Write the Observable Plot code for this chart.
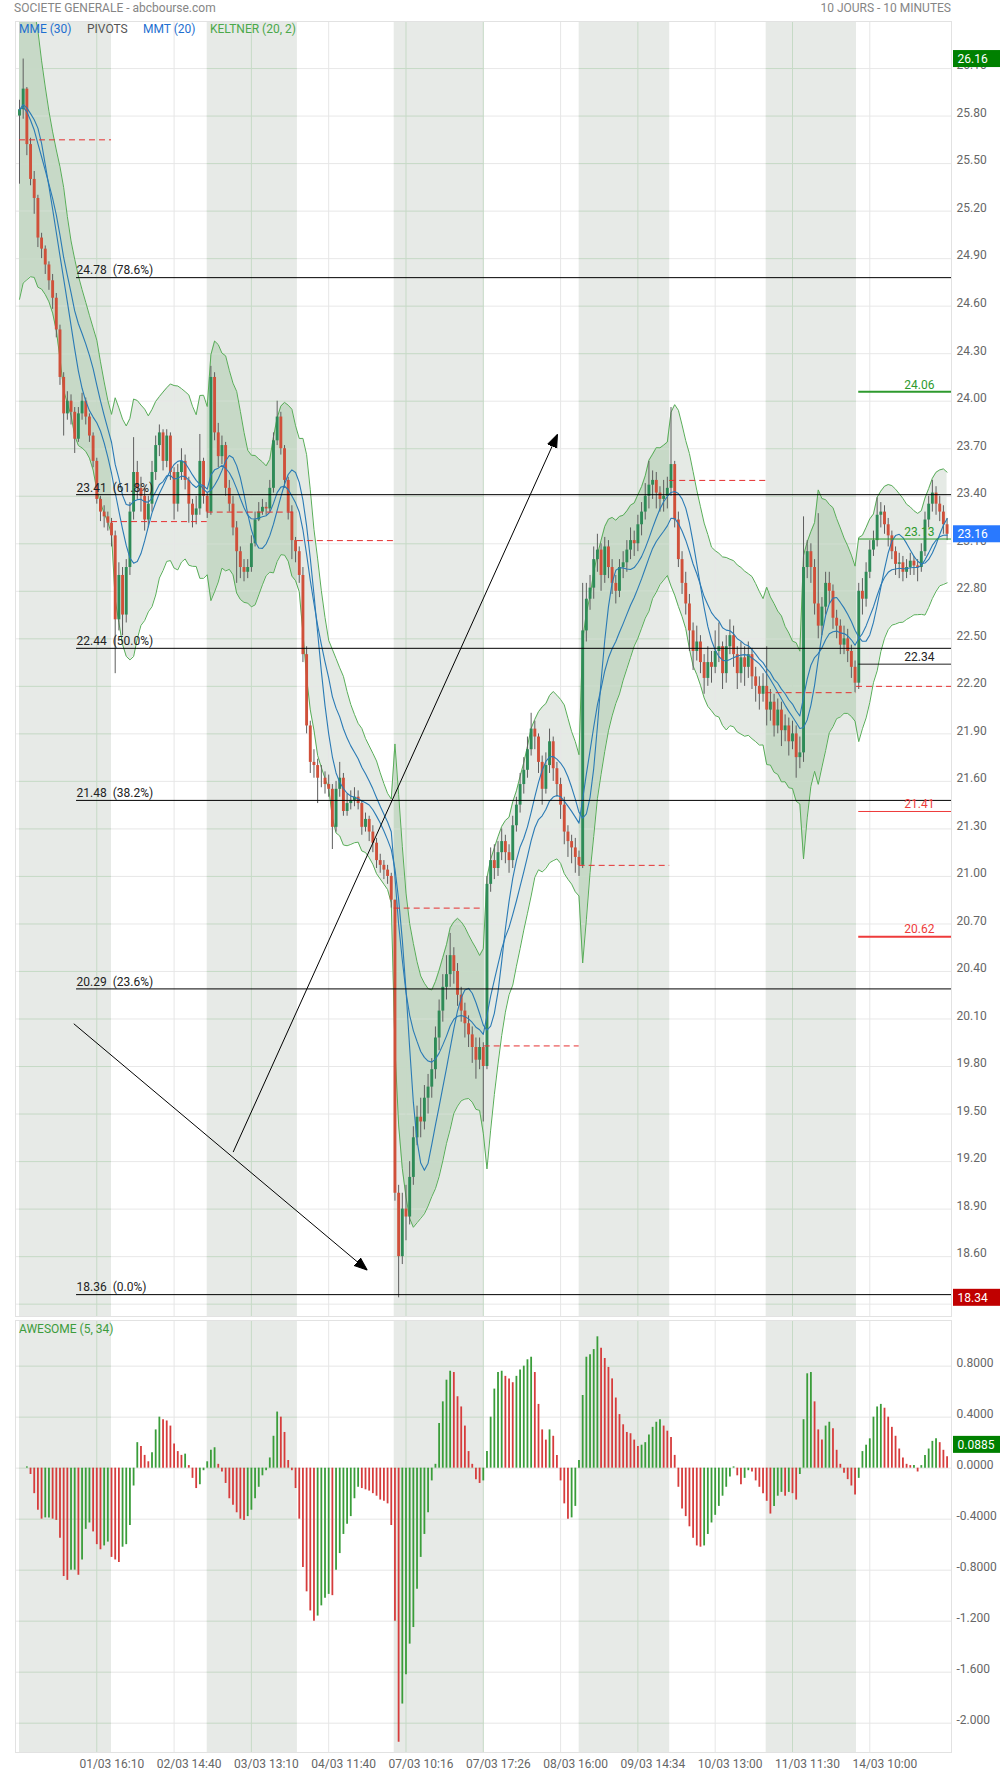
<!DOCTYPE html>
<html>
<head>
<meta charset="utf-8">
<script src="https://cdn.jsdelivr.net/npm/d3@7"></script>
<script src="https://cdn.jsdelivr.net/npm/@observablehq/plot@0.6"></script>
<style>
  html, body { margin: 0; padding: 0; background: #fff; }
  body { font-family: Roboto, "Noto Sans", sans-serif; }
  #wrap { position: relative; width: 1000px; height: 1774px; overflow: hidden; }
  #main { position: absolute; left: 0; top: 0; }
  #osc { position: absolute; left: 0; top: 1318px; }
  .lbl { position: absolute; white-space: nowrap; font-size: 12px; line-height: 14px; }
</style>
</head>
<body>
<div id="wrap">
  <div id="main"></div>
  <div id="osc"></div>
  <div class="lbl" style="left:14px;top:1px;color:#858585;">SOCIETE GENERALE - abcbourse.com</div>
  <div class="lbl" style="right:49px;top:1px;color:#858585;">10 JOURS - 10 MINUTES</div>
  <div class="lbl" style="left:19px;top:22px;color:#1e6fd0;">MME (30)</div>
  <div class="lbl" style="left:87px;top:22px;color:#555;">PIVOTS</div>
  <div class="lbl" style="left:143px;top:22px;color:#1e6fd0;">MMT (20)</div>
  <div class="lbl" style="left:210px;top:22px;color:#4aa84a;">KELTNER (20, 2)</div>
  <div class="lbl" style="left:19px;top:1322px;color:#3c9c3c;">AWESOME (5, 34)</div>
</div>
<script>
// ---------------- DATA ----------------
const firstOpen = 25.80;
const closes = [
  25.84,25.97,25.62,25.40,25.28,25.03,24.96,24.86,24.76,24.65,24.45,24.15,23.92,24.00,23.93,23.76,23.92,24.00,23.90,23.78,23.62,23.38,23.30,23.27,23.23,
  23.15,22.62,22.90,22.65,22.95,23.30,23.55,23.45,23.40,23.25,23.35,23.55,23.72,23.80,23.62,23.78,23.55,23.35,23.55,23.62,23.50,23.35,23.28,23.32,23.62,23.40,
  23.30,24.15,23.80,23.65,23.72,23.45,23.35,23.20,23.05,22.95,22.92,22.95,23.10,23.25,23.30,23.33,23.32,23.45,23.75,23.90,23.70,23.50,23.30,23.12,23.05,
  22.90,22.40,21.95,21.72,21.70,21.62,21.62,21.58,21.55,21.31,21.55,21.62,21.41,21.46,21.48,21.50,21.46,21.31,21.36,21.28,21.21,21.10,21.07,21.04,21.00,20.85,
  19.00,18.60,18.90,18.85,19.10,19.35,19.48,19.45,19.60,19.67,19.78,19.98,20.15,20.30,20.38,20.50,20.40,20.25,20.15,20.07,20.00,19.92,19.84,19.92,19.80,
  20.95,21.10,21.05,21.15,21.22,21.15,21.10,21.32,21.45,21.58,21.67,21.80,21.93,21.88,21.72,21.55,21.70,21.85,21.68,21.58,21.45,21.28,21.22,21.18,21.12,21.07,
  22.55,22.75,22.82,23.00,23.06,22.90,23.08,22.95,22.85,22.80,22.95,22.98,23.06,23.12,23.10,23.22,23.30,23.40,23.47,23.50,23.42,23.38,23.40,23.45,23.60,
  23.25,23.00,22.85,22.72,22.55,22.42,22.48,22.35,22.25,22.35,22.32,22.42,22.45,22.28,22.45,22.52,22.40,22.28,22.38,22.32,22.40,22.26,22.20,22.15,22.20,
  22.05,22.10,21.95,22.05,21.92,21.95,21.85,21.90,21.75,21.78,22.95,23.05,22.95,22.72,22.58,22.70,22.85,22.80,22.63,22.58,22.46,22.50,22.42,22.32,22.22,
  22.80,22.75,22.92,23.06,23.12,23.28,23.30,23.22,23.15,23.05,22.97,22.98,22.92,22.95,22.99,22.96,22.95,23.05,23.25,23.35,23.42,23.35,23.30,23.22,23.16
];
const highs = [
  25.90,26.16,25.98,25.66,25.45,25.30,25.06,24.98,24.88,24.80,24.68,24.48,24.18,24.06,24.04,23.96,23.96,24.05,24.02,23.92,23.80,23.64,23.40,23.34,23.30,
  23.26,23.18,22.98,22.95,23.00,23.36,23.77,23.62,23.52,23.45,23.40,23.62,23.78,23.85,23.82,23.82,23.80,23.58,23.60,23.70,23.66,23.52,23.38,23.40,23.79,23.64,
  23.42,24.22,24.18,23.86,23.78,23.74,23.50,23.40,23.24,23.08,23.00,23.00,23.15,23.30,23.36,23.38,23.36,23.50,23.80,24.00,23.93,23.72,23.52,23.34,23.14,
  23.08,22.95,22.45,21.98,21.80,21.74,21.70,21.66,21.64,21.58,21.60,21.72,21.65,21.52,21.54,21.56,21.54,21.48,21.40,21.38,21.32,21.24,21.14,21.10,21.07,21.02,
  20.85,19.05,19.00,19.05,19.20,19.42,19.55,19.60,19.68,19.75,19.85,20.05,20.22,20.38,20.50,20.64,20.55,20.45,20.30,20.20,20.12,20.05,19.98,19.98,19.95,
  21.00,21.18,21.20,21.22,21.30,21.26,21.20,21.38,21.50,21.65,21.75,21.88,22.03,21.98,21.90,21.76,21.78,21.93,21.88,21.72,21.62,21.50,21.32,21.26,21.24,21.16,
  22.85,22.85,22.90,23.08,23.16,23.10,23.14,23.12,23.00,22.90,23.00,23.05,23.12,23.20,23.18,23.28,23.36,23.48,23.62,23.56,23.55,23.46,23.50,23.52,23.96,
  23.62,23.30,23.05,22.92,22.78,22.60,22.58,22.52,22.40,22.45,22.42,22.55,22.60,22.48,22.52,22.62,22.58,22.45,22.48,22.45,22.48,22.44,22.32,22.26,22.28,
  22.45,22.18,22.15,22.12,22.10,22.02,22.00,21.98,21.95,21.88,23.27,23.12,23.10,23.00,23.29,22.76,22.92,22.92,22.84,22.68,22.62,22.58,22.56,22.46,22.36,
  22.85,22.88,22.98,23.12,23.18,23.39,23.36,23.34,23.26,23.18,23.08,23.04,23.02,23.00,23.04,23.02,23.00,23.10,23.30,23.40,23.50,23.46,23.40,23.34,23.26
];
const lows = [
  25.37,25.78,25.55,25.36,25.18,24.97,24.90,24.80,24.70,24.58,24.40,24.10,23.78,23.88,23.85,23.67,23.74,23.88,23.85,23.74,23.58,23.35,23.24,23.20,23.18,
  23.08,22.28,22.55,22.52,22.60,22.90,23.25,23.38,23.30,23.18,23.20,23.30,23.50,23.65,23.56,23.58,23.50,23.25,23.30,23.50,23.44,23.23,23.20,23.22,23.28,23.35,
  23.26,23.28,23.75,23.58,23.60,23.40,23.30,23.15,22.85,22.88,22.86,22.88,22.92,23.08,23.24,23.28,23.28,23.30,23.42,23.72,23.66,23.45,23.25,23.00,22.98,
  22.85,22.35,21.90,21.65,21.62,21.46,21.56,21.52,21.50,21.17,21.28,21.50,21.38,21.38,21.42,21.44,21.42,21.26,21.28,21.22,21.15,21.05,21.02,20.98,20.95,20.80,
  18.95,18.34,18.55,18.70,18.80,19.05,19.30,19.35,19.40,19.50,19.60,19.72,19.90,20.08,20.22,20.30,20.32,20.18,20.08,19.98,19.92,19.82,19.72,19.78,19.45,
  19.78,20.90,20.98,21.00,21.10,21.08,21.02,21.05,21.28,21.40,21.52,21.62,21.76,21.80,21.65,21.45,21.52,21.65,21.60,21.50,21.36,21.20,21.12,21.08,21.02,21.00,
  21.05,22.48,22.68,22.75,22.92,22.80,22.85,22.88,22.78,22.72,22.76,22.88,22.92,23.00,23.02,23.05,23.15,23.25,23.32,23.38,23.32,23.30,23.30,23.32,23.40,
  23.20,22.95,22.78,22.65,22.42,22.30,22.36,22.28,22.15,22.20,22.22,22.28,22.35,22.18,22.22,22.40,22.32,22.18,22.22,22.20,22.25,22.18,22.10,22.05,22.10,
  21.95,21.98,21.88,21.90,21.82,21.85,21.76,21.80,21.62,21.68,21.72,22.88,22.85,22.65,22.50,22.52,22.65,22.72,22.56,22.50,22.40,22.40,22.35,22.25,22.16,
  22.18,22.65,22.70,22.88,23.02,23.08,23.20,23.16,23.08,23.00,22.90,22.88,22.86,22.88,22.90,22.90,22.86,22.92,23.02,23.20,23.30,23.28,23.24,23.16,23.12
];
const awesome = [
  0,0,0.01,-0.05,-0.20,-0.33,-0.40,-0.39,-0.39,-0.40,-0.41,-0.55,-0.85,-0.88,-0.80,-0.80,-0.84,-0.72,-0.48,-0.43,-0.50,-0.60,-0.64,-0.61,-0.58,
  -0.70,-0.72,-0.74,-0.62,-0.60,-0.45,-0.14,0.20,0.17,0.10,0.05,0.12,0.30,0.40,0.38,0.37,0.33,0.19,0.13,0.10,0.11,0.02,-0.08,-0.16,-0.13,-0.02,
  0.05,0.14,0.16,0.03,-0.03,-0.12,-0.24,-0.29,-0.35,-0.40,-0.41,-0.38,-0.33,-0.24,-0.15,-0.06,-0.02,0.08,0.25,0.44,0.40,0.28,0.06,-0.02,-0.16,
  -0.40,-0.78,-0.97,-1.12,-1.20,-1.16,-1.08,-1.02,-0.99,-1.00,-0.80,-0.67,-0.52,-0.44,-0.38,-0.24,-0.15,-0.16,-0.17,-0.18,-0.20,-0.22,-0.25,-0.26,-0.28,-0.45,
  -1.20,-2.15,-1.85,-1.62,-1.38,-1.25,-0.95,-0.70,-0.52,-0.35,-0.10,0.03,0.35,0.52,0.69,0.76,0.75,0.56,0.48,0.33,0.13,0.03,-0.09,-0.12,-0.10,
  0.13,0.40,0.62,0.75,0.76,0.72,0.70,0.67,0.72,0.77,0.80,0.85,0.87,0.75,0.50,0.30,0.22,0.30,0.25,0.10,-0.10,-0.28,-0.40,-0.39,-0.30,0.06,
  0.57,0.87,0.89,0.93,1.03,0.94,0.86,0.79,0.70,0.55,0.42,0.34,0.28,0.27,0.22,0.17,0.18,0.20,0.26,0.32,0.36,0.38,0.33,0.29,0.24,
  0.10,-0.15,-0.32,-0.38,-0.46,-0.55,-0.61,-0.62,-0.61,-0.52,-0.43,-0.37,-0.30,-0.22,-0.15,-0.07,0.01,-0.06,-0.13,-0.08,-0.02,-0.03,-0.10,-0.15,-0.20,
  -0.26,-0.36,-0.30,-0.22,-0.19,-0.22,-0.19,-0.20,-0.25,-0.05,0.38,0.74,0.75,0.52,0.30,0.22,0.33,0.36,0.31,0.14,0.03,-0.04,-0.09,-0.14,-0.21,
  -0.08,0.13,0.18,0.23,0.40,0.48,0.50,0.47,0.40,0.32,0.25,0.15,0.08,0.03,0.02,0.02,-0.03,0.02,0.10,0.15,0.21,0.23,0.20,0.14,0.0885
];
// day boundaries in 10-minute bar units (candles here are 20-minute steps: t = 2*j)
const dayBounds = [0, 50, 102, 151, 203.6, 252.5, 304.1, 353.3, 405.7, 454.8];
const shadedDays = [0, 2, 4, 6, 8];
const pivots = [25.65, 23.24, 23.30, 23.12, 20.80, 19.93, 21.07, 23.50, 22.16, 22.20];
const fibLevels = [24.78, 23.41, 22.44, 21.48, 20.29, 18.36];
const fibPct = ["78.6%", "61.8%", "50.0%", "38.2%", "23.6%", "0.0%"];
const fibStartBar = 31;
const todayLevels = [24.06, 23.13, 22.34, 21.41, 20.62];
const todayKinds = ["R2", "R1", "P", "S1", "S2"];
const xTickBars = [42, 84, 126, 168, 210, 252, 294, 336, 378, 420, 462];
const xTickLabels = ["01/03 16:10","02/03 14:40","03/03 13:10","04/03 11:40","07/03 10:16","07/03 17:26","08/03 16:00","09/03 14:34","10/03 13:00","11/03 11:30","14/03 10:00"];
const aoTicks = [0.8, 0.4, 0, -0.4, -0.8, -1.2, -1.6, -2.0];
const aoTickLabels = ["0.8000","0.4000","0.0000","-0.4000","-0.8000","-1.200","-1.600","-2.000"];
const arrowsData = [
  {t1: 29.5, p1: 20.07, t2: 188.9, p2: 18.515},
  {t1: 116.1, p1: 19.26, t2: 292.3, p2: 23.79}
];
const periodHigh = 26.16, periodLow = 18.34, lastPrice = 23.16, lastAO = 0.0885;

// ---------------- SCALES / DERIVED ----------------
const xDomain = [-2.17, 506.4];
const priceDomain = [18.222, 26.397];
const aoDomain = [-2.23, 1.158];
const priceTicks = d3.range(61, 88).map(i => Math.round(i * 30) / 100);

const candles = closes.map((c, j) => ({
  t: 2 * j, o: j ? closes[j - 1] : firstOpen, h: highs[j], l: lows[j], c
}));
function ema(a, n) { const k = 2 / (n + 1); let e = a[0]; return a.map((v, i) => i === 0 ? e : (e = e + k * (v - e))); }
function sma(a, n) { return a.map((v, i) => { const s = Math.max(0, i - n + 1); let sum = 0; for (let q = s; q <= i; q++) sum += a[q]; return sum / (i - s + 1); }); }
const mme = ema(closes, 15);
const mmt = sma(sma(closes, 5), 6);
const typical = candles.map(d => (d.h + d.l + d.c) / 3);
const tr = candles.map((d, i) => i === 0 ? d.h - d.l : Math.max(d.h - d.l, Math.abs(d.h - candles[i - 1].c), Math.abs(d.l - candles[i - 1].c)));
const kCenter = ema(typical, 10);
const atr = ema(tr, 10);
candles.forEach((d, i) => {
  d.mme = mme[i]; d.mmt = mmt[i];
  d.upper = kCenter[i] + 2 * atr[i]; d.lower = kCenter[i] - 2 * atr[i];
});
const aoData = awesome.map((v, j) => ({t: 2 * j, v, up: j === 0 ? true : v >= awesome[j - 1]}));

const shade = shadedDays.map(d => ({x1: dayBounds[d], x2: dayBounds[d + 1]}));
const isShaded = t => shade.some(s => t >= s.x1 && t <= s.x2);

// band geometry cut at the shaded-day edges (so the darker tint stops exactly at the day edges)
function bandAt(t) {
  const i = Math.min(candles.length - 2, Math.max(0, Math.floor(t / 2)));
  const a = candles[i], b = candles[i + 1], f = (t - a.t) / (b.t - a.t);
  return {t, upper: a.upper + f * (b.upper - a.upper), lower: a.lower + f * (b.lower - a.lower)};
}
const darkBand = shade.flatMap((s, k) =>
  [bandAt(s.x1), ...candles.filter(d => d.t > s.x1 && d.t < s.x2), bandAt(s.x2)].map(p => ({t: p.t, upper: p.upper, lower: p.lower, seg: k}))
);

const pivotData = pivots.map((v, d) => ({v, x1: dayBounds[d], x2: d < dayBounds.length - 1 ? dayBounds[d + 1] : xDomain[1]}));
const fibData = fibLevels.map((v, i) => ({v, label: v.toFixed(2) + "\u00a0\u00a0(" + fibPct[i] + ")"}));
const levelStyle = {
  R2: {color: "#2e9a2e", w: 2}, R1: {color: "#2e9a2e", w: 1}, P: {color: "#222", w: 1},
  S1: {color: "#ee3b3b", w: 1}, S2: {color: "#ee3b3b", w: 2}
};
const levelData = todayLevels.map((v, i) => ({v, kind: todayKinds[i], label: v.toFixed(2)}));
const todayStart = dayBounds[9] + 1.2;

const pxPerBar = 936 / (xDomain[1] - xDomain[0]);
const pxPerPrice = 1295 / (priceDomain[1] - priceDomain[0]);
const pxPerAO = 432 / (aoDomain[1] - aoDomain[0]);
const badgeX1 = xDomain[1] + 2 / pxPerBar, badgeX2 = xDomain[1] + 49 / pxPerBar, badgeTX = xDomain[1] + 6 / pxPerBar;
const levelTextX = xDomain[1] - 17 / pxPerBar;
const priceBadges = [
  {v: periodHigh, color: "#008000"}, {v: lastPrice, color: "#2979ff"}, {v: periodLow, color: "#c00000"}
];
const labelMap = new Map(xTickBars.map((b, i) => [b, xTickLabels[i]]));
const aoLabelMap = new Map(aoTicks.map((b, i) => [b, aoTickLabels[i]]));

const GRID = "#e6e6e6", GRID_G = "#c6dac6", SHADE = "#e7eae7";
const UP = "#2e8b57", DOWN = "#d0503a";

function filledHead(color, context) {
  const ns = "http://www.w3.org/2000/svg";
  const doc = (context && context.document) || document;
  const m = doc.createElementNS(ns, "marker");
  m.setAttribute("viewBox", "-13 -6 13 12");
  m.setAttribute("markerWidth", "13");
  m.setAttribute("markerHeight", "12");
  m.setAttribute("markerUnits", "userSpaceOnUse");
  m.setAttribute("orient", "auto");
  m.setAttribute("refX", "0");
  m.setAttribute("refY", "0");
  const p = doc.createElementNS(ns, "path");
  p.setAttribute("d", "M-13,-5L0,0L-13,5Z");
  p.setAttribute("fill", color === "currentColor" ? "#000" : color);
  m.appendChild(p);
  return m;
}

function mainMarks(arrowMark) {
  return [
    Plot.rect(shade, {x1: "x1", x2: "x2", fill: SHADE}),
    Plot.areaY(candles, {x: "t", y1: "lower", y2: "upper", fill: "#e5eae5", clip: true}),
    Plot.areaY(darkBand, {x: "t", y1: "lower", y2: "upper", z: "seg", fill: "#c7d9c7", clip: true}),
    Plot.ruleY(priceTicks, {stroke: GRID, strokeOpacity: 0.9}),
    Plot.ruleY(d3.cross(priceTicks, shade), {y: d => d[0], x1: d => d[1].x1, x2: d => d[1].x2, stroke: GRID_G}),
    Plot.ruleX(xTickBars, {stroke: d => isShaded(d) ? GRID_G : GRID}),
    Plot.line(candles, {x: "t", y: "upper", stroke: "#58ad58", strokeWidth: 1, clip: true}),
    Plot.line(candles, {x: "t", y: "lower", stroke: "#58ad58", strokeWidth: 1, clip: true}),
    Plot.ruleX(candles, {x: "t", y1: "l", y2: "h", stroke: "#5e5e5e", strokeWidth: 1, clip: true}),
    Plot.ruleX(candles, {x: "t", y1: "o", y2: "c", stroke: d => d.c >= d.o ? UP : DOWN, strokeWidth: 2.9, clip: true}),
    Plot.line(candles, {x: "t", y: "mmt", stroke: "#2a7ab5", strokeWidth: 1.1, clip: true}),
    Plot.line(candles, {x: "t", y: "mme", stroke: "#2a7ab5", strokeWidth: 1.1, clip: true}),
    Plot.ruleY(pivotData, {y: "v", x1: "x1", x2: "x2", stroke: "#e53030", strokeWidth: 1, strokeDasharray: "6,4"}),
    Plot.ruleY(fibData, {y: "v", x1: fibStartBar, x2: xDomain[1], stroke: "#000", strokeWidth: 1}),
    Plot.text(fibData, {x: fibStartBar, y: "v", text: "label", dy: -7, textAnchor: "start", fill: "#222", fontSize: 12}),
    arrowMark,
    Plot.ruleY(levelData, {y: "v", x1: todayStart, x2: xDomain[1], stroke: d => levelStyle[d.kind].color, strokeWidth: d => levelStyle[d.kind].w}),
    Plot.text(levelData, {x: levelTextX, y: "v", text: "label", dy: -7, textAnchor: "end", fill: d => levelStyle[d.kind].color, fontSize: 12}),
    Plot.axisY({ticks: priceTicks, anchor: "right", label: null, tickSize: 0, tickPadding: 5, dy: -3, tickFormat: d => d.toFixed(2), color: "#666", fontSize: 12}),
    Plot.rect(priceBadges, {x1: badgeX1, x2: badgeX2, y1: d => d.v - 8.5 / pxPerPrice, y2: d => d.v + 8.5 / pxPerPrice, fill: "color"}),
    Plot.text(priceBadges, {x: badgeTX, y: "v", text: d => d.v.toFixed(2), fill: "white", textAnchor: "start", fontSize: 12}),
    Plot.frame({stroke: "#e2e2e2"})
  ];
}
function buildMain(arrowMark) {
  return Plot.plot({
    width: 1000, height: 1318,
    marginTop: 21, marginBottom: 2, marginLeft: 15, marginRight: 49,
    x: {domain: xDomain, axis: null},
    y: {domain: priceDomain, axis: null, label: null},
    style: {fontFamily: "Roboto, sans-serif", fontSize: "12px", background: "transparent", overflow: "visible"},
    marks: mainMarks(arrowMark)
  });
}
let mainPlot;
try {
  mainPlot = buildMain(Plot.link(arrowsData, {x1: "t1", y1: "p1", x2: "t2", y2: "p2", stroke: "#000", strokeWidth: 1, markerEnd: filledHead}));
} catch (e) {
  mainPlot = buildMain(Plot.arrow(arrowsData, {x1: "t1", y1: "p1", x2: "t2", y2: "p2", stroke: "#000", strokeWidth: 1, headLength: 12}));
}
document.getElementById("main").appendChild(mainPlot);

const oscPlot = Plot.plot({
  width: 1000, height: 456,
  marginTop: 2, marginBottom: 22, marginLeft: 15, marginRight: 49,
  x: {domain: xDomain, axis: null, label: null},
  y: {domain: aoDomain, axis: null, label: null},
  style: {fontFamily: "Roboto, sans-serif", fontSize: "12px", background: "transparent", overflow: "visible"},
  marks: [
    Plot.rect(shade, {x1: "x1", x2: "x2", fill: SHADE}),
    Plot.ruleY(aoTicks, {stroke: GRID}),
    Plot.ruleY(d3.cross(aoTicks, shade), {y: d => d[0], x1: d => d[1].x1, x2: d => d[1].x2, stroke: GRID_G}),
    Plot.ruleX(xTickBars, {stroke: d => isShaded(d) ? GRID_G : GRID}),
    Plot.ruleX(aoData, {x: "t", y1: 0, y2: "v", stroke: d => d.up ? "#3a9d3a" : "#d63c3c", strokeWidth: 1.8}),
    Plot.axisY({ticks: aoTicks, anchor: "right", label: null, tickSize: 0, tickPadding: 5, dy: -3, tickFormat: d => aoLabelMap.get(d), color: "#666", fontSize: 12}),
    Plot.axisX({ticks: xTickBars, anchor: "bottom", label: null, tickSize: 0, tickPadding: 7, dx: 15, tickFormat: d => labelMap.get(d), color: "#666", fontSize: 12}),
    Plot.rect([lastAO], {x1: badgeX1, x2: badgeX2, y1: d => d + 3.5 / pxPerAO, y2: d => d + 20.5 / pxPerAO, fill: "#008000"}),
    Plot.text([lastAO], {x: badgeTX, y: d => d + 12 / pxPerAO, text: d => d.toFixed(4), fill: "white", textAnchor: "start", fontSize: 12}),
    Plot.frame({stroke: "#e2e2e2"})
  ]
});
document.getElementById("osc").appendChild(oscPlot);
</script>
</body>
</html>
